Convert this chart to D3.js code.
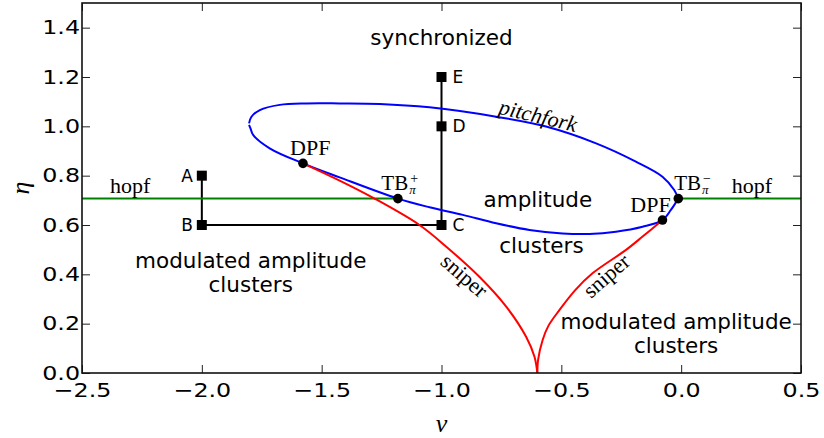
<!DOCTYPE html>
<html><head><meta charset="utf-8">
<script src="https://cdn.jsdelivr.net/npm/d3@7"></script>
<style>body{margin:0;background:#fff;} svg{display:block;}</style>
</head><body>
<svg id="chart" width="824" height="438"></svg>
<script>
// ---- data ----
const xTicks = [-2.5, -2.0, -1.5, -1.0, -0.5, 0.0, 0.5];
const yTicks = [0.0, 0.2, 0.4, 0.6, 0.8, 1.0, 1.2, 1.4];

const pitchforkUpper = [[-1.803,1.012],[-1.793,1.039],[-1.758,1.066],[-1.675,1.087],[-1.564,1.093],[-1.425,1.093],[-1.258,1.091],[-1.050,1.077],[-0.772,1.039],[-0.564,0.999],[-0.355,0.931],[-0.189,0.857],[-0.078,0.796],[-0.029,0.742],[-0.012,0.707]];
const pitchforkLower = [[-0.012,0.707],[-0.043,0.661],[-0.078,0.620],[-0.161,0.593],[-0.272,0.573],[-0.383,0.564],[-0.495,0.566],[-0.633,0.580],[-0.772,0.607],[-0.911,0.641],[-1.050,0.672],[-1.182,0.707],[-1.425,0.793],[-1.578,0.850],[-1.717,0.911],[-1.786,0.965],[-1.797,0.992],[-1.803,1.006]];
const sniperLeft = [[-1.578,0.850],[-1.425,0.780],[-1.283,0.709],[-1.092,0.600],[-0.980,0.512],[-0.842,0.390],[-0.730,0.269],[-0.647,0.147],[-0.612,0.066],[-0.600,0.0]];
const sniperRight = [[-0.600,0.0],[-0.597,0.053],[-0.578,0.134],[-0.554,0.191],[-0.508,0.255],[-0.442,0.336],[-0.370,0.404],[-0.230,0.499],[-0.161,0.553],[-0.078,0.620]];
const hopfLeft = [[-2.5,0.707],[-1.182,0.707]];
const hopfRight = [[-0.012,0.707],[0.5,0.707]];

const pointLabels = ["A","B","C","D","E"];
const pointNu = [-2.0, -2.0, -1.0, -1.0, -1.0];
const pointEta = [0.8, 0.6, 0.6, 1.0, 1.2];
const pointLabelSide = ["left","left","right","right","right"];

const specialNu = [-1.578, -0.078, -1.182, -0.012];
const specialEta = [0.850, 0.620, 0.707, 0.707];

// ---- setup ----
const svg = d3.select("#chart");
const L = 82, R = 801, T = 3, B = 373;
const x = d3.scaleLinear().domain([-2.5, 0.5]).range([L, R]);
const y = d3.scaleLinear().domain([0, 1.5]).range([B, T]);

svg.append("defs").append("clipPath").attr("id","clip")
  .append("rect").attr("x",L).attr("y",T).attr("width",R-L).attr("height",B-T);

const plot = svg.append("g").attr("clip-path","url(#clip)");
const line = d3.line().x(d=>x(d[0])).y(d=>y(d[1])).curve(d3.curveCatmullRom.alpha(0.5));
const lin = d3.line().x(d=>x(d[0])).y(d=>y(d[1]));

// black path A-B-C-D-E
plot.append("path").datum(pointNu.map((v,i)=>[v, pointEta[i]]))
  .attr("d", lin).attr("fill","none").attr("stroke","#000").attr("stroke-width",2);

// hopf
[hopfLeft, hopfRight].forEach(s => plot.append("path").datum(s).attr("d", lin)
  .attr("fill","none").attr("stroke","#008000").attr("stroke-width",2));
// pitchfork
[pitchforkUpper, pitchforkLower].forEach(s => plot.append("path").datum(s).attr("d", line)
  .attr("fill","none").attr("stroke","#0000ff").attr("stroke-width",2));
// sniper
[sniperLeft, sniperRight].forEach(s => plot.append("path").datum(s).attr("d", line)
  .attr("fill","none").attr("stroke","#ff0000").attr("stroke-width",2));

// square markers
plot.selectAll("rect.pt").data(pointNu).enter().append("rect")
  .attr("x",(d)=>x(d)-5).attr("y",(d,i)=>y(pointEta[i])-5).attr("width",10).attr("height",10).attr("fill","#000");
// point labels
svg.selectAll("text.pl").data(pointLabels).enter().append("text")
  .attr("x",(d,i)=> x(pointNu[i]) + (pointLabelSide[i]==="left" ? -9 : 11))
  .attr("y",(d,i)=> y(pointEta[i]) + 6)
  .attr("text-anchor",(d,i)=> pointLabelSide[i]==="left" ? "end" : "start")
  .attr("font-family","DejaVu Sans").attr("font-size",17).text(d=>d);

// special circle markers
plot.selectAll("circle.sp").data(specialNu).enter().append("circle")
  .attr("cx",d=>x(d)).attr("cy",(d,i)=>y(specialEta[i])).attr("r",4.8).attr("fill","#000");

// ---- axes ----
const fmt = d3.format(".1f");
const ax = svg.append("g").attr("font-family","DejaVu Sans");
const gx = ax.append("g").attr("transform",`translate(0,${B})`)
  .call(d3.axisBottom(x).tickValues(xTicks).tickFormat(fmt).tickSize(-8).tickPadding(10));
ax.append("g").attr("transform",`translate(0,${T})`)
  .call(d3.axisTop(x).tickValues(xTicks).tickFormat("").tickSize(-8));
const gy = ax.append("g").attr("transform",`translate(${L},0)`)
  .call(d3.axisLeft(y).tickValues(yTicks).tickFormat(fmt).tickSize(-8).tickPadding(2));
ax.append("g").attr("transform",`translate(${R},0)`)
  .call(d3.axisRight(y).tickValues(yTicks).tickFormat("").tickSize(-8));
ax.selectAll(".domain").remove();
ax.selectAll(".tick line").attr("stroke","#222").attr("stroke-width",1);
ax.selectAll(".tick text").attr("font-size",19.5).attr("fill","#000").attr("font-family","DejaVu Sans")
  .attr("transform","scale(1.22,1)");
gy.selectAll(".tick text").attr("x",-1.6);
svg.append("rect").attr("x",L).attr("y",T).attr("width",R-L).attr("height",B-T)
  .attr("fill","none").attr("stroke","#111").attr("stroke-width",1.6);

// axis labels
svg.append("text").attr("x",x(-1.0)).attr("y",432).attr("text-anchor","middle")
  .attr("font-family","Liberation Serif").attr("font-style","italic").attr("font-size",26).text("ν");
svg.append("text").attr("transform",`translate(29,${y(0.75)}) rotate(-90)`).attr("text-anchor","middle")
  .attr("font-family","Liberation Serif").attr("font-style","italic").attr("font-size",26).text("η");

// ---- region texts ----
const regionTexts = [
  {nu:-1.0, eta:1.33, lines:["synchronized"]},
  {nu:-0.598, eta:0.674, lines:["amplitude"]},
  {nu:-0.583, eta:0.486, lines:["clusters"]},
  {nu:-1.796, eta:0.424, lines:["modulated amplitude","clusters"]},
  {nu:-0.021, eta:0.178, lines:["modulated amplitude","clusters"]}
];
regionTexts.forEach(r => {
  const t = svg.append("text").attr("font-family","DejaVu Sans").attr("font-size",21.5)
    .attr("text-anchor","middle").attr("fill","#000");
  r.lines.forEach((s,i) => t.append("tspan").attr("x",x(r.nu)).attr("y",y(r.eta)+i*24).text(s));
});

// serif annotations
const serif = (nu, eta, txt, opts={}) => svg.append("text")
  .attr("x",x(nu)).attr("y",y(eta)).attr("font-family","Liberation Serif")
  .attr("font-size",opts.size||22).attr("font-style",opts.italic?"italic":"normal")
  .attr("text-anchor",opts.anchor||"start")
  .attr("transform",opts.rot!==undefined?`rotate(${opts.rot},${x(nu)},${y(eta)})`:null).text(txt);

serif(-2.383, 0.731, "hopf");
serif(0.211, 0.731, "hopf");
serif(-1.632, 0.884, "DPF");
serif(-0.212, 0.654, "DPF");
serif(-0.604, 1.014, "pitchfork", {italic:true, anchor:"middle", rot:13.5, size:22});
serif(-0.925, 0.372, "sniper", {anchor:"middle", rot:41});
serif(-0.292, 0.372, "sniper", {anchor:"middle", rot:-41});

function tb(nu, eta, sup){
  const t = svg.append("text").attr("x",x(nu)).attr("y",y(eta))
    .attr("font-family","Liberation Serif").attr("font-size",21);
  t.append("tspan").text("TB");
  const pi = t.append("tspan").attr("dx",1).attr("dy",4).attr("font-size",13).attr("font-style","italic").text("π");
  const pw = pi.node().getComputedTextLength();
  t.append("tspan").attr("dx",-pw+1).attr("dy",-11).attr("font-size",14).text(sup);
}
tb(-1.251, 0.742, "+");
tb(-0.029, 0.742, "−");
</script>
</body></html>
